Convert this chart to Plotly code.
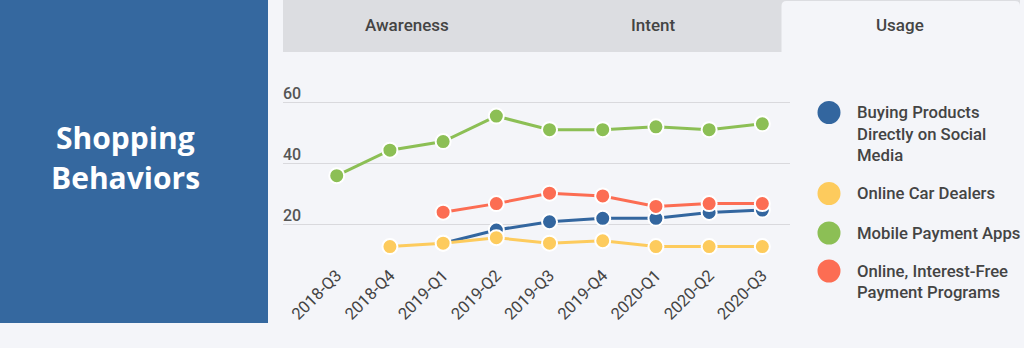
import plotly.graph_objects as go

W, H = 1024, 348

categories = ["2018-Q3", "2018-Q4", "2019-Q1", "2019-Q2", "2019-Q3",
              "2019-Q4", "2020-Q1", "2020-Q2", "2020-Q3"]

social_media = [None, None, 14.0, 18.3, 21.0, 22.1, 22.1, 24.0, 24.8]
car_dealers = [None, 12.9, 14.0, 15.8, 14.0, 14.8, 12.9, 12.9, 12.9]
payment_apps = [36.0, 44.3, 47.1, 55.4, 51.0, 51.0, 51.9, 51.0, 52.9]
interest_free = [None, None, 24.1, 26.9, 30.3, 29.4, 26.0, 26.9, 26.9]

series_names = ["Buying Products<br>Directly on Social<br>Media",
                "Online Car Dealers",
                "Mobile Payment Apps",
                "Online, Interest-Free<br>Payment Programs"]
series_values = [social_media, car_dealers, payment_apps, interest_free]
series_colors = ["#33669f", "#fdcb5d", "#8cbf55", "#fc6d53"]

y_ticks = [20, 40, 60]
tabs = ["Awareness", "Intent", "Usage"]
title_lines = ["Shopping", "Behaviors"]

BG = "#f4f5f9"
TXT = "#444444"

Y_MIN, Y_MAX = 8, 67
PX_PER_UNIT = 3.07
Y60_PX = 102


def px(x):
    return x / W


def py(y):
    return (H - y) / H


fig = go.Figure()
for name, vals, col in zip(series_names, series_values, series_colors):
    fig.add_trace(go.Scatter(
        x=categories, y=vals, name=name.replace("<br>", " "),
        mode="lines+markers",
        line=dict(color=col, width=3),
        marker=dict(size=15, color=col, line=dict(color="white", width=2)),
        hoverinfo="x+y+name",
    ))

shapes = []
annotations = []

# left title panel
shapes.append(dict(type="rect", xref="paper", yref="paper",
                   x0=0, x1=px(268), y0=py(323), y1=py(0),
                   fillcolor="#35689f", line=dict(width=0), layer="below"))
for i, t in enumerate(title_lines):
    annotations.append(dict(xref="paper", yref="paper", x=px(125), y=py(137 + 40 * i),
                            text="<b>" + t + "</b>", showarrow=False,
                            xanchor="center", yanchor="middle",
                            font=dict(family="Open Sans", size=30, color="white")))

# tab bar
shapes.append(dict(type="rect", xref="paper", yref="paper",
                   x0=px(283), x1=px(1020), y0=py(52), y1=py(0),
                   fillcolor="#dcdde1", line=dict(width=0), layer="below"))
# active tab (rounded top corners)
ax0, ax1, ay0, ay1, r = 781.5, 1020, 1, 53, 5
path = (f"M {px(ax0)},{py(ay1)} L {px(ax0)},{py(ay0 + r)} "
        f"Q {px(ax0)},{py(ay0)} {px(ax0 + r)},{py(ay0)} "
        f"L {px(ax1 - r)},{py(ay0)} Q {px(ax1)},{py(ay0)} {px(ax1)},{py(ay0 + r)} "
        f"L {px(ax1)},{py(ay1)} Z")
shapes.append(dict(type="path", xref="paper", yref="paper", path=path,
                   fillcolor=BG, line=dict(width=0), layer="below"))
for t, cx in zip(tabs, [407, 653, 900]):
    annotations.append(dict(xref="paper", yref="paper", x=px(cx), y=py(25),
                            text=t, showarrow=False, xanchor="center", yanchor="middle",
                            font=dict(family="Roboto", size=17, color=TXT, weight=500)))

# legend
legend_y = [112.5, 193.5, 233, 271]
for name, col, ly in zip(series_names, series_colors, legend_y):
    shapes.append(dict(type="circle", xref="paper", yref="paper",
                       x0=px(829 - 11.5), x1=px(829 + 11.5),
                       y0=py(ly + 11.5), y1=py(ly - 11.5),
                       fillcolor=col, line=dict(width=0)))
    for j, line in enumerate(name.split("<br>")):
        annotations.append(dict(xref="paper", yref="paper", x=px(855), y=py(ly + 21.5 * j),
                                text=line, showarrow=False, xanchor="left", yanchor="middle",
                                font=dict(family="Roboto", size=16.7, color=TXT, weight=500)))

top_px = Y60_PX - (Y_MAX - 60) * PX_PER_UNIT
bot_px = Y60_PX + (60 - Y_MIN) * PX_PER_UNIT

fig.update_layout(
    width=W, height=H, autosize=False,
    margin=dict(l=0, r=0, t=0, b=0),
    paper_bgcolor=BG, plot_bgcolor=BG,
    showlegend=False,
    shapes=shapes, annotations=annotations,
    xaxis=dict(domain=[px(283), px(790)], range=[-1.01, 8.52],
               type="category", showgrid=False, zeroline=False, showline=False,
               tickangle=-45, ticks="",
               tickfont=dict(family="Roboto", size=16.5, color=TXT)),
    yaxis=dict(domain=[py(bot_px), py(top_px)], range=[Y_MIN, Y_MAX],
               tickvals=y_ticks, showgrid=True, gridcolor="#d9d9dd", gridwidth=1,
               zeroline=False, showline=False, ticks="",
               ticklabelposition="inside", ticklabelshift=-9, ticklabelstandoff=-3,
               tickfont=dict(family="Roboto", size=16, color="#555555", weight=500)),
)

fig.write_html("out.html")
